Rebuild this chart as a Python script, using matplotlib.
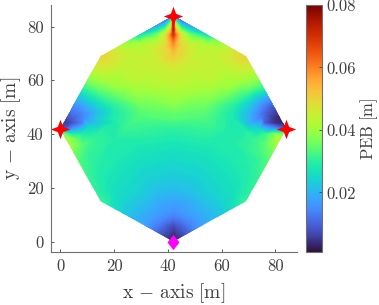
import numpy as np
import matplotlib
matplotlib.use("Agg")
import matplotlib.pyplot as plt
from matplotlib.cm import ScalarMappable
from matplotlib.colors import Normalize
from matplotlib.patches import Polygon

plt.rcParams['font.family'] = ['cmr10', 'DejaVu Sans']
plt.rcParams['mathtext.fontset'] = 'cm'
plt.rcParams['axes.formatter.use_mathtext'] = True

# PEB, in mm, row by row
row_y = [84, 82.5, 81, 79, 77, 75, 73, 71, 69, 66, 63, 60, 57, 54, 51, 48, 46, 44,
         42, 40, 38, 36, 33, 30, 24, 18, 15, 12, 9, 6, 3, 0]
row_x = [
    [42],
    [39.3, 41, 42, 43, 44.7],
    [36.6, 39, 41, 42, 43, 45, 47.4],
    [33, 36, 39, 41, 42, 43, 45, 48, 51],
    [29.4, 33, 36, 39, 41, 42, 43, 45, 48, 51, 54.6],
    [25.8, 31, 36, 39, 42, 45, 48, 53, 58.2],
    [22.2, 30, 36, 39, 42, 45, 48, 54, 61.8],
    [18.6, 26, 36, 42, 48, 58, 65.4],
    [15, 24, 36, 42, 48, 60, 69],
    [13.3, 24, 36, 42, 48, 60, 70.7],
    [11.7, 24, 42, 60, 72.3],
    [10, 18, 27, 42, 57, 66, 74],
    [8.3, 14, 22, 32, 42, 52, 62, 70, 75.7],
    [6.7, 11, 15, 22, 32, 42, 52, 62, 69, 73, 77.3],
    [5, 9, 14, 20, 30, 42, 54, 64, 70, 75, 79],
    [3.3, 8, 14, 20, 30, 42, 54, 64, 70, 76, 80.7],
    [2.2, 5, 9, 14, 20, 30, 42, 54, 64, 70, 75, 79, 81.8],
    [1.1, 4, 8, 14, 20, 30, 42, 54, 64, 70, 76, 80, 82.9],
    [0, 2, 5, 10, 16, 24, 42, 60, 68, 74, 79, 82, 84],
    [1.1, 4, 8, 14, 24, 42, 60, 70, 76, 80, 82.9],
    [2.2, 6, 12, 20, 42, 64, 72, 78, 81.8],
    [3.3, 8, 16, 28, 42, 56, 68, 76, 80.7],
    [5, 10, 18, 42, 66, 74, 79],
    [6.7, 12, 20, 30, 42, 54, 64, 72, 77.3],
    [10, 16, 24, 32, 42, 52, 60, 68, 74],
    [13.3, 20, 28, 36, 42, 48, 56, 64, 70.7],
    [15, 22, 30, 36, 42, 48, 54, 62, 69],
    [20.4, 28, 36, 42, 48, 56, 63.6],
    [25.8, 32, 38, 42, 46, 52, 58.2],
    [31.2, 36, 40, 42, 44, 48, 52.8],
    [36.6, 40, 42, 44, 47.4],
    [42],
]
row_peb = [
    [3],
    [9, 24, 60, 24, 9],
    [14, 20, 38, 76, 38, 20, 14],
    [19, 25, 34, 50, 74, 50, 34, 25, 19],
    [26, 31, 36, 46, 60, 70, 60, 46, 36, 31, 26],
    [36, 38, 41, 47, 62, 47, 41, 38, 36],
    [42, 42, 45, 49, 58, 49, 45, 42, 42],
    [47, 44, 46, 54, 46, 44, 47],
    [50, 45, 46, 51, 46, 45, 50],
    [46, 44, 45, 47, 45, 44, 46],
    [42, 43, 45, 43, 42],
    [37, 41, 43, 44, 43, 41, 37],
    [30, 35, 39, 41, 42, 41, 39, 35, 30],
    [22, 27, 31, 35, 38, 40, 38, 35, 30, 24, 18],
    [15, 19, 25, 30, 36, 38, 36, 30, 23, 15, 9],
    [11, 14, 21, 28, 34, 35, 34, 28, 20, 10, 5],
    [7, 10, 15, 23, 29, 33, 34, 33, 28, 20, 12, 5, 3],
    [5, 7, 13, 22, 28, 32, 32, 32, 28, 20, 9, 4, 3],
    [3, 9, 16, 25, 29, 31, 30, 30, 28, 24, 16, 11, 3],
    [36, 29, 29, 30, 30, 29, 29, 30, 31, 37, 36],
    [42, 35, 31, 29, 28, 29, 31, 36, 44],
    [40, 34, 30, 28, 27, 28, 30, 34, 40],
    [36, 31, 28, 26, 28, 32, 36],
    [33, 30, 28, 26, 25, 26, 28, 30, 33],
    [31, 28, 26, 24, 23, 24, 26, 28, 31],
    [30, 26, 24, 21, 20, 21, 24, 26, 30],
    [31, 25, 22, 19, 18, 19, 22, 25, 31],
    [26, 21, 18, 16, 18, 21, 26],
    [21, 18, 15, 13, 15, 18, 21],
    [18, 13, 9, 7, 9, 13, 18],
    [9, 6, 4, 6, 9],
    [2],
]

outline_x = [42, 69, 84, 69, 42, 15, 0, 15]
outline_y = [84, 69, 42, 15, 0, 15, 42, 69]
anchor_x = [42, 0, 84]
anchor_y = [84, 42, 42]
target_x = [42]
target_y = [0]
ticks = [0, 20, 40, 60, 80]
cbar_ticks = [0.02, 0.04, 0.06, 0.08]
peb_min, peb_max = 0.0009, 0.08

node_x = np.concatenate(row_x)
node_y = np.concatenate([[y] * len(xs) for y, xs in zip(row_y, row_x)])
node_peb = np.concatenate(row_peb) / 1000.0

grey = '#404040'
W, H = 379, 305
fig = plt.figure(figsize=(W / 100, H / 100), dpi=100)
ax = fig.add_axes([50.5 / W, 1 - 252 / H, 246.5 / W, 247 / H])
cax = fig.add_axes([305.5 / W, 1 - 252 / H, 16.5 / W, 247 / H])

# many contour levels so the colours stay on the colormap
norm = Normalize(peb_min, peb_max)
mesh = ax.tricontourf(node_x, node_y, node_peb, levels=np.linspace(peb_min, peb_max, 200),
                      cmap='turbo', norm=norm, extend='both', antialiased=False)
clip = Polygon(np.column_stack([outline_x, outline_y]), transform=ax.transData)
mesh.set_clip_path(clip)

# four point star and tall diamond
star = [(0, 1), (0.27, 0.27), (1, 0), (0.27, -0.27), (0, -1), (-0.27, -0.27), (-1, 0), (-0.27, 0.27), (0, 1)]
diamond = [(0, 1), (0.78, 0), (0, -1), (-0.78, 0), (0, 1)]
ax.plot(anchor_x, anchor_y, linestyle='none', marker=star, ms=14, color='red', mew=0)
ax.plot(target_x, target_y, linestyle='none', marker=diamond, ms=11, color='magenta', mew=0,
        clip_on=False)

ax.set_xlim(-3.7, 88)
ax.set_ylim(-3.9, 88)
ax.set_xticks(ticks)
ax.set_yticks(ticks)
ax.set_xticklabels([str(t) for t in ticks])
ax.set_yticklabels([str(t) for t in ticks])
ax.tick_params(axis='x', direction='in', length=2.2, width=0.6, color=grey, labelcolor=grey,
               labelsize=12, pad=5)
ax.tick_params(axis='y', direction='in', length=2.2, width=0.6, color=grey, labelcolor=grey,
               labelsize=12, pad=5)
ax.spines['top'].set_visible(False)
ax.spines['right'].set_visible(False)
for s in ['left', 'bottom']:
    ax.spines[s].set_color('#707070')
    ax.spines[s].set_linewidth(0.8)
ax.set_xlabel(r'$\mathrm{x\,-\,axis\ [m]}$', fontsize=14, color=grey, labelpad=5)
ax.set_ylabel(r'$\mathrm{y\,-\,axis\ [m]}$', fontsize=14, color=grey, labelpad=3)

cb = fig.colorbar(ScalarMappable(norm=norm, cmap='turbo'), cax=cax)
cb.set_ticks(cbar_ticks)
cb.set_ticklabels(['%.2f' % t for t in cbar_ticks])
cb.ax.tick_params(direction='in', length=2.2, width=0.6, color=grey, labelcolor=grey,
                  labelsize=12, pad=3)
cb.outline.set_edgecolor('#707070')
cb.outline.set_linewidth(0.8)
cb.set_label(r'$\mathrm{PEB\ [m]}$', fontsize=12, color=grey, labelpad=1.5)

fig.savefig('out.png', dpi=100)
